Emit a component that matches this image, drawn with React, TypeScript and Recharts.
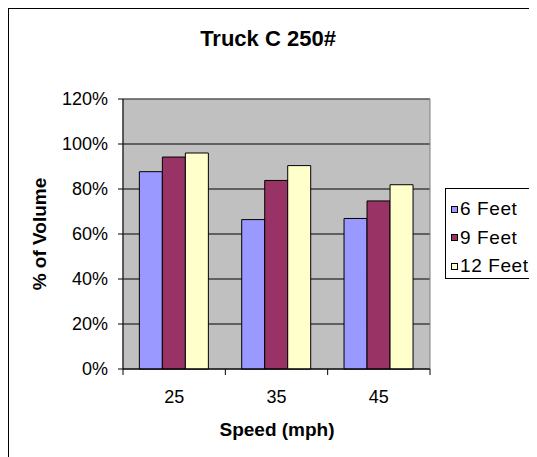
import {
  BarChart,
  Bar,
  XAxis,
  YAxis,
  CartesianGrid,
  ReferenceArea,
  Legend,
} from 'recharts'

const speeds = ['25', '35', '45']
const feet6 = [0.877, 0.664, 0.669]
const feet9 = [0.942, 0.838, 0.747]
const feet12 = [0.96, 0.904, 0.819]
const seriesNames = ['6 Feet', '9 Feet', '12 Feet']
const yTicks = [0, 0.2, 0.4, 0.6, 0.8, 1.0, 1.2]

const data = speeds.map((s, i) => ({
  speed: s,
  f6: feet6[i],
  f9: feet9[i],
  f12: feet12[i],
}))

const FONT = '"Liberation Sans", Arial, sans-serif'
const TICK_SIZE = 6
const TICK_MARGIN = 15

const XTick = (props: any) => {
  const { x, y, payload, index, width, visibleTicksCount } = props
  const bw = width / visibleTicksCount
  const axisY = y - TICK_SIZE - TICK_MARGIN
  return (
    <g>
      <line x1={x - bw / 2} x2={x - bw / 2} y1={axisY} y2={axisY + TICK_SIZE} stroke="#000" />
      {index === visibleTicksCount - 1 && (
        <line x1={x + bw / 2} x2={x + bw / 2} y1={axisY} y2={axisY + TICK_SIZE} stroke="#000" />
      )}
      <text x={x} y={y} dy="0.71em" textAnchor="middle" fontSize={18} fill="#000" fontFamily={FONT}>
        {payload.value}
      </text>
    </g>
  )
}

const LegendBox = ({ payload }: any) => {
  // keep the series order, recharts sorts the payload by name
  const items = [...(payload || [])].sort(
    (a: any, b: any) => seriesNames.indexOf(a.value) - seriesNames.indexOf(b.value)
  )
  return (
    <div
      style={{
        width: 92,
        height: 91,
        boxSizing: 'border-box',
        border: '1px solid #000',
        background: '#fff',
        paddingTop: 6,
        paddingLeft: 5,
        fontFamily: FONT,
        fontSize: 19,
        letterSpacing: 0.6,
        color: '#000',
        textAlign: 'left',
        whiteSpace: 'nowrap',
      }}
    >
      {items.map((p: any) => (
        <div key={p.value} style={{ height: 28.5, display: 'flex', alignItems: 'center' }}>
          <span
            style={{
              width: 5,
              height: 5,
              border: '1px solid #000',
              background: p.color,
              marginRight: 2,
              display: 'inline-block',
            }}
          />
          <span>{p.value}</span>
        </div>
      ))}
    </div>
  )
}

export default function App() {
  return (
    <div
      style={{
        position: 'relative',
        width: 529,
        height: 449,
        boxSizing: 'border-box',
        borderLeft: '1px solid #000',
        borderTop: '1px solid #000',
        fontFamily: FONT,
        background: '#fff',
      }}
    >
      <div
        style={{
          position: 'absolute',
          left: 159,
          top: 19,
          width: 200,
          textAlign: 'center',
          fontSize: 22,
          lineHeight: '22px',
          fontWeight: 'bold',
        }}
      >
        Truck C 250#
      </div>
      <div
        style={{
          position: 'absolute',
          left: -69,
          top: 215,
          width: 200,
          height: 20,
          lineHeight: '20px',
          textAlign: 'center',
          fontSize: 19,
          fontWeight: 'bold',
          transform: 'rotate(-90deg)',
        }}
      >
        % of Volume
      </div>
      <div
        style={{
          position: 'absolute',
          left: 168,
          top: 411,
          width: 200,
          lineHeight: '19px',
          textAlign: 'center',
          fontSize: 19,
          fontWeight: 'bold',
        }}
      >
        Speed (mph)
      </div>

      <BarChart
        width={528}
        height={448}
        data={data}
        margin={{ top: 90, right: 107, bottom: 48, left: 54 }}
        barCategoryGap="16%"
        barGap={0}
      >
        <CartesianGrid fill="#c0c0c0" stroke="#000" vertical={false} />
        <ReferenceArea y1={0} y2={1.2} fill="none" stroke="#808080" strokeWidth={1} />
        <XAxis
          dataKey="speed"
          height={40}
          stroke="#000"
          tickLine={false}
          tickSize={TICK_SIZE}
          tickMargin={TICK_MARGIN}
          tick={<XTick />}
        />
        <YAxis
          width={60}
          domain={[0, 1.2]}
          ticks={yTicks}
          stroke="#000"
          tickSize={5}
          tickMargin={10}
          tickFormatter={(v: number) => `${Math.round(v * 100)}%`}
          tick={{ fill: '#000', fontSize: 18, fontFamily: FONT }}
        />
        <Legend
          layout="horizontal"
          verticalAlign="middle"
          align="center"
          content={<LegendBox />}
          wrapperStyle={{ left: 436, top: 179, width: 92, height: 91 }}
        />
        <Bar dataKey="f6" name={seriesNames[0]} fill="#9999ff" stroke="#000" isAnimationActive={false} />
        <Bar dataKey="f9" name={seriesNames[1]} fill="#993366" stroke="#000" isAnimationActive={false} />
        <Bar dataKey="f12" name={seriesNames[2]} fill="#ffffcc" stroke="#000" isAnimationActive={false} />
      </BarChart>
    </div>
  )
}
